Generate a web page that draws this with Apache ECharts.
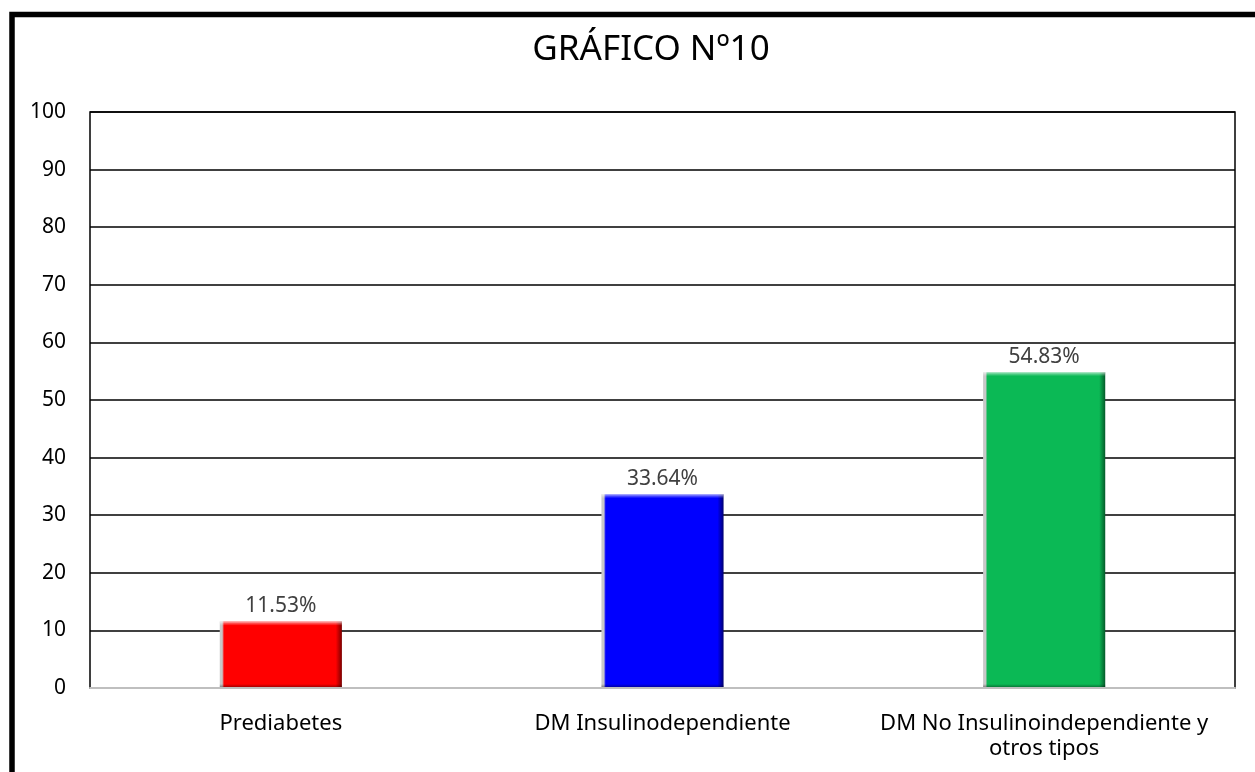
<!DOCTYPE html>
<html>
<head>
<meta charset="utf-8">
<script src="https://cdn.jsdelivr.net/npm/echarts@6/dist/echarts.min.js"></script>
<style>
  html, body { margin: 0; padding: 0; background: #fff; }
  #chart { width: 1255px; height: 772px; }
</style>
</head>
<body>
<div id="chart"></div>
<script>
// datos del gráfico
var categorias = ['Prediabetes', 'DM Insulinodependiente', 'DM No Insulinoindependiente y\notros tipos'];
var porcentajes = [11.53, 33.64, 54.83];
var colores = ['#ff0000', '#0000ff', '#0bb955'];
var oscuros = ['#7a0000', '#000070', '#055a2a'];
var titulo = 'GRÁFICO Nº10';

// bisel horizontal: borde claro a la izquierda, sombra a la derecha
function biselH(c, d) {
  return new echarts.graphic.LinearGradient(0, 0, 1, 0, [
    { offset: 0, color: '#c8c8c8' },
    { offset: 0.02, color: '#c8c8c8' },
    { offset: 0.035, color: c },
    { offset: 0.95, color: c },
    { offset: 1, color: d }
  ]);
}

// bisel vertical: brillo arriba, sombra abajo (unos 4px)
function biselV(v) {
  var h = v * 5.76;
  var f = 4 / h;
  return new echarts.graphic.LinearGradient(0, 0, 0, 1, [
    { offset: 0, color: 'rgba(255,255,255,0.75)' },
    { offset: f * 0.4, color: 'rgba(255,255,255,0.35)' },
    { offset: f, color: 'rgba(255,255,255,0)' },
    { offset: 1 - f, color: 'rgba(0,0,0,0)' },
    { offset: 1, color: 'rgba(0,0,0,0.45)' }
  ]);
}

var chart = echarts.init(document.getElementById('chart'));

var option = {
  animation: false,
  textStyle: { fontFamily: 'Noto Sans' },
  title: {
    text: titulo,
    left: 646,
    textAlign: 'center',
    top: 28,
    textStyle: { fontSize: 35, fontWeight: 'normal', color: '#000', fontFamily: 'Noto Sans' }
  },
  graphic: [
    {
      type: 'rect',
      shape: { x: 12, y: 14.5, width: 1400, height: 900 },
      style: { fill: 'none', stroke: '#000', lineWidth: 5.5 },
      silent: true
    }
  ],
  grid: {
    left: 90, right: 20, top: 112, bottom: 84,
    show: true,
    borderColor: '#000',
    borderWidth: 1.5,
    containLabel: false
  },
  xAxis: {
    type: 'category',
    data: categorias,
    axisLine: { lineStyle: { color: '#bfbfbf', width: 2 } },
    axisTick: { show: false },
    axisLabel: {
      color: '#000',
      fontSize: 22,
      lineHeight: 25,
      margin: 23,
      interval: 0
    },
    z: 5
  },
  yAxis: {
    type: 'value',
    min: 0,
    max: 100,
    interval: 10,
    axisLine: { show: false },
    axisTick: { show: false },
    axisLabel: { color: '#000', fontSize: 21, margin: 24 },
    splitLine: { lineStyle: { color: '#000', width: 1.5 } }
  },
  series: [
    {
      type: 'bar',
      barWidth: '32%',
      data: porcentajes.map(function (v, i) {
        return {
          value: v,
          itemStyle: { color: biselH(colores[i], oscuros[i]) }
        };
      }),
      label: {
        show: true,
        position: 'top',
        distance: 5,
        color: '#404040',
        fontSize: 21,
        formatter: function (p) { return p.value.toFixed(2) + '%'; }
      }
    },
    {
      type: 'bar',
      barWidth: '32%',
      barGap: '-100%',
      silent: true,
      data: porcentajes.map(function (v) {
        return { value: v, itemStyle: { color: biselV(v) } };
      })
    }
  ]
};

chart.setOption(option);
</script>
</body>
</html>
